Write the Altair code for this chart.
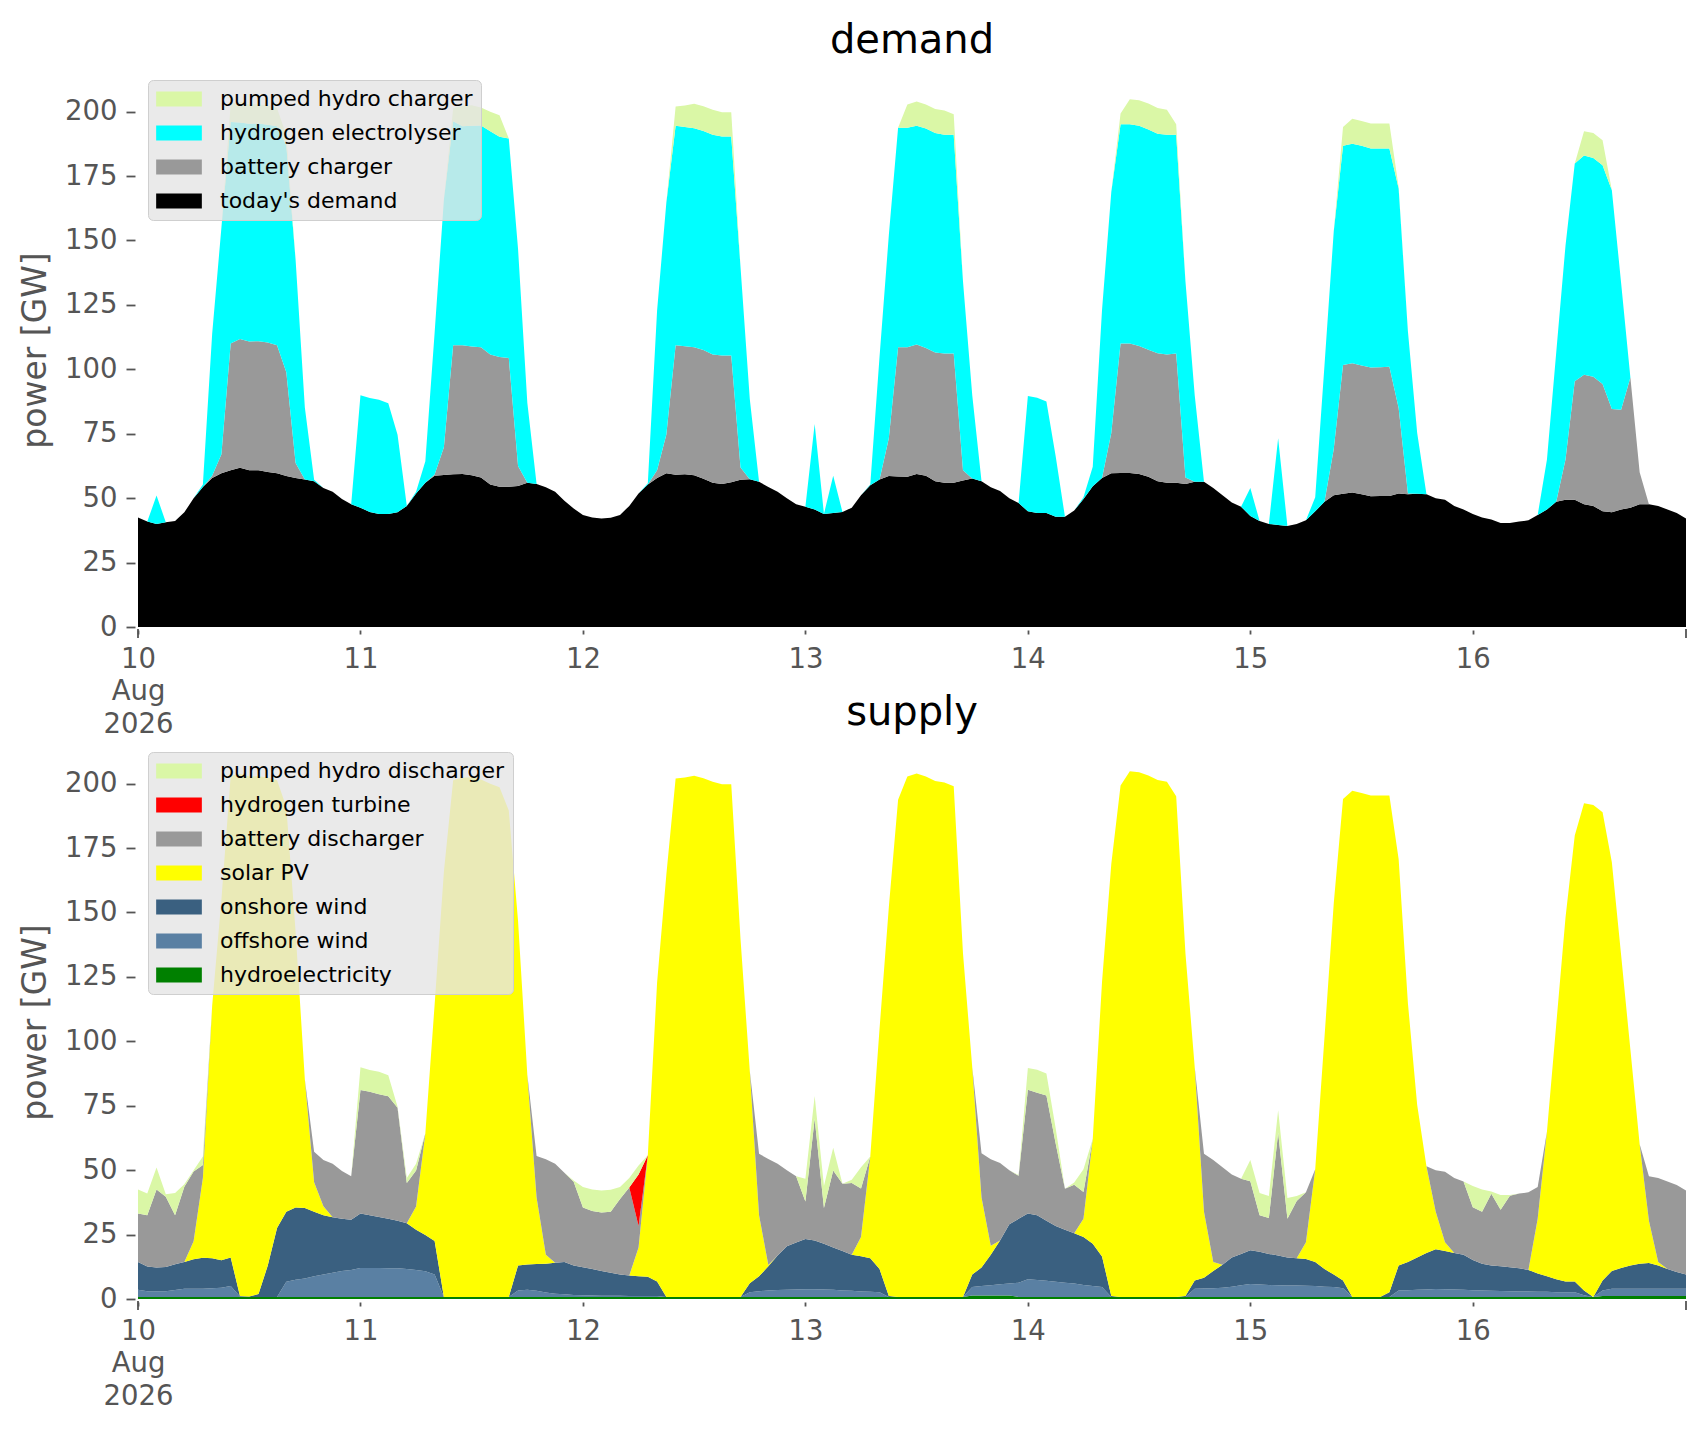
import altair as alt
import pandas as pd

# ---------------- data (hourly, 10 Aug 2026 00:00 .. 16 Aug 2026 23:00) ----------------
start = "2026-08-10 00:00"

demand = [
42.5,40.9,40.0,40.7,41.1,44.5,50.0,54.3,57.8,59.7,60.8,61.8,60.8,60.8,60.2,59.7,58.6,57.8,57.2,56.6,53.9,52.5,49.7,47.6,
46.3,44.6,43.9,43.9,44.5,47.0,51.8,56.0,58.7,59.0,59.3,59.4,58.9,58.0,55.3,54.4,54.4,54.7,56.0,55.5,54.2,52.5,49.0,46.0,
43.5,42.5,42.1,42.4,43.5,47.0,51.8,55.3,57.8,59.7,59.1,59.3,58.9,57.5,56.0,55.5,56.2,57.1,57.3,56.4,54.3,52.5,50.0,47.6,
46.7,45.6,43.9,44.2,44.6,46.3,51.1,55.0,57.2,58.6,58.4,58.3,59.4,58.7,56.6,56.0,56.0,56.9,57.6,56.6,54.2,52.8,50.0,48.1,
44.9,44.2,44.2,42.8,42.8,45.2,49.7,54.6,57.8,59.7,59.8,59.8,59.4,58.3,56.6,56.0,56.0,55.5,56.4,56.4,53.9,51.1,48.3,46.7,
43.1,41.1,40.0,39.6,39.2,40.0,41.4,44.9,48.6,51.1,51.7,52.2,51.5,50.7,50.8,50.8,51.8,51.5,51.7,51.5,50.0,49.4,47.0,45.6,
43.9,42.5,41.7,40.4,40.4,40.9,41.4,43.5,45.6,48.6,49.4,49.4,47.6,47.0,44.9,44.5,45.6,46.3,47.6,47.6,47.0,45.6,44.2,42.1]

battery_charger = [
0,0,0,0,0,0,0,0,0.9,7.3,49.2,50.0,50.0,50.1,50.2,49.6,40.3,5.8,0,0,0,0,0,0,
0,0,0,0,0,0,0,0,0.5,10.8,50.0,49.9,50.0,50.6,50.5,50.4,50.0,7.8,0,0,0,0,0,0,
0,0,0,0,0,0,0,0,3.0,15.0,50.2,49.7,49.7,50.0,49.8,49.9,49.2,4.8,0,0,0,0,0,0,
0,0,0,0,0,0,0,0,0,14.7,50.2,50.3,50.2,49.6,49.9,50.1,50.1,3.9,0,0,0,0,0,0,
0,0,0,0,0,0,0,0,0,15.6,50.2,50.2,49.7,49.3,49.6,49.8,50.1,2.5,0,0,0,0,0,0,
0,0,0,0,0,0,0,0,0,18.0,50.0,50.2,50.0,50.0,50.0,50.2,33.2,0.3,0,0,0,0,0,0,
0,0,0,0,0,0,0,0,0,0,15.6,46.0,50.3,50.1,49.4,40.1,38.7,50.5,12.5,0,0,0,0,0]

electrolyser = [
0,0,11.0,0,0,0,0,1.0,55.0,88.0,86.0,84.0,84.5,84.5,84.5,85.0,88.0,79.0,28.0,0.5,0,0,0,0,
43.6,44.3,44.3,42.9,30.1,0,0.7,8.3,55.0,96.0,87.0,85.0,85.6,86.0,86.6,85.5,85.2,84.2,31.0,0,0,0,0,0,
0,0,0,0,0,0,0,0.5,62.0,90.0,85.2,85.0,85.0,85.0,85.2,85.0,85.0,77.8,31.2,0,0,0,0,0,
0,33.2,0,14.5,0,0,0,0.3,47.8,78.7,85.2,85.2,84.9,85.2,85.2,84.9,84.9,73.4,32.3,0,0,0,0,0,
44.7,44.8,43.3,23.5,0,0,0.7,7.6,65.2,93.5,85.1,85.1,85.4,85.5,85.2,85.2,84.9,76.2,33.5,0,0,0,0,0,
10.8,0,0,33.7,0,0,0,5.5,53.0,84.5,85.1,85.1,85.3,85.0,84.9,84.7,85.2,63.0,23.6,0,0,0,0,0,
0,0,0,0,0,0,0,0,19.4,57.9,83.0,84.5,85.1,84.9,84.9,84.9,49.2,0,0,0,0,0,0,0]

pumped_charger = [
0,0,0,0,0,0,0,0,0,0,7.0,8.0,7.5,7.5,7.5,7.0,4.0,0,0,0,0,0,0,0,
0,0,0,0,0,0,0,0,0,0,5.0,8.0,8.0,7.0,7.6,8.3,0,0,0,0,0,0,0,0,
0,0,0,0,0,0,0,0,0,0,7.5,8.4,9.5,9.6,9.7,9.4,9.4,0,0,0,0,0,0,0,
0,0,0,0,0,0,0,0,0,0,0,9.0,9.4,9.3,9.3,9.4,8.0,0,0,0,0,0,0,0,
0,0,0,0,0,0,0,0,0,0,4.2,9.7,9.9,10.1,10.0,9.7,4.1,0,0,0,0,0,0,0,
0,0,0,0,0,0,0,0,0,0,7.2,9.7,9.6,9.7,9.7,9.7,0.5,0,0,0,0,0,0,0,
0,0,0,0,0,0,0,0,0,0,0,0,9.4,9.7,9.7,0,0,0,0,0,0,0,0,0]

hydro = [
0.8,0.8,0.8,0.8,0.8,0.8,0.8,0.8,0.8,0.8,0.8,0.8,0.8,0.8,0.8,0.8,0.8,0.8,0.8,0.8,0.8,0.8,0.8,0.8,
0.8,0.8,0.8,0.8,0.8,0.8,0.8,0.8,0.8,0.8,0.8,0.8,0.8,0.8,0.8,0.8,0.8,0.8,0.8,0.8,0.8,0.8,0.8,0.8,
0.8,0.8,0.8,0.8,0.8,0.8,0.8,0.8,0.8,0.8,0.8,0.8,0.8,0.8,0.8,0.8,0.8,0.8,0.8,0.8,0.8,0.8,0.8,0.8,
0.8,0.8,0.8,0.8,0.8,0.8,0.8,0.8,0.8,0.8,0.8,0.8,0.8,0.8,0.8,0.8,0.8,0.8,1.4,1.4,1.4,1.4,1.4,0.8,
0.8,0.8,0.8,0.8,0.8,0.8,0.8,0.8,0.8,0.8,0.8,0.8,0.8,0.8,0.8,0.8,0.8,0.8,0.8,0.8,0.8,0.8,0.8,0.8,
0.8,0.8,0.8,0.8,0.8,0.8,0.8,0.8,0.8,0.8,0.8,0.8,0.8,0.8,0.8,0.8,0.8,0.8,0.8,0.8,0.8,0.8,0.8,0.8,
0.8,0.8,0.8,0.8,0.8,0.8,0.8,0.8,0.8,0.8,0.8,0.8,0.8,0.8,1.2,1.2,1.2,1.2,1.2,1.2,1.2,1.2,1.2,1.2]

offshore = [
2.8,2.2,2.2,2.2,2.7,3.2,3.2,3.2,3.4,3.6,4.2,0.2,0,0,0,0,5.9,6.7,7.2,8.0,8.7,9.4,10.1,10.5,
11.2,11.2,11.2,11.1,11.1,10.8,10.5,10.0,8.7,0,0,0,0,0,0,0,0,2.5,2.8,2.4,1.7,1.2,1.0,0.8,
0.7,0.6,0.5,0.5,0.5,0.4,0.4,0.4,0.4,0,0,0,0,0,0,0,0,0,1.8,2.2,2.5,2.7,2.8,2.9,
3.0,3.0,2.9,2.8,2.5,2.4,2.1,2.0,1.8,0,0,0,0,0,0,0,0,0,3.3,3.6,3.9,4.3,4.6,5.5,
6.9,6.6,6.3,5.9,5.5,5.2,4.6,4.2,3.9,0,0,0,0,0,0,0,0,0,3.2,3.3,3.4,3.6,4.0,4.5,
5.0,4.8,4.6,4.5,4.4,4.4,4.3,4.2,4.0,3.9,3.4,0,0,0,0,0,2.5,2.6,2.8,2.9,3.1,3.0,2.9,2.8,
2.6,2.5,2.4,2.3,2.2,2.1,2.1,2.0,2.0,1.8,1.8,1.8,0.7,0,2.1,2.8,2.8,2.8,2.8,2.8,2.8,2.8,2.8,2.8]

onshore = [
10.8,9.6,9.2,9.4,10.0,10.4,11.4,12.0,11.6,10.6,11.1,0.2,0.2,1.1,12.2,26.8,27.2,28.0,27.3,25.1,23.0,21.5,20.2,19.5,
21.2,20.5,19.8,19.2,18.5,17.8,15.6,14.0,13.0,0,0,0,0,0,0,0,0,9.7,9.8,10.4,11.2,12.1,12.6,11.4,
10.8,10.2,9.6,8.9,8.2,7.9,7.6,7.4,5.6,0,0,0,0,0,0,0,0,0,3.5,5.8,9.4,13.4,16.9,18.2,
19.5,18.9,17.7,16.4,15.3,14.0,13.7,13.0,9.0,0.4,0,0,0,0,0,0,0,0,4.8,7.2,11.9,17.0,23.0,24.8,
25.5,25.1,23.3,21.6,20.6,19.5,18.7,16.4,11.8,0.4,0,0,0,0,0,0,0,0.4,3.2,4.1,6.7,8.9,11.3,12.2,
13.1,12.7,12.1,11.6,10.9,10.6,10.4,9.4,6.8,4.8,3.0,0,0,0,0,1.8,9.7,11.0,12.5,14.2,15.4,14.8,14.2,13.6,
11.7,10.4,9.8,9.6,9.3,9.0,8.4,7.1,6.0,5.1,4.2,4.2,1.8,0,3.9,6.9,8.0,9.0,9.7,10.0,9.0,7.6,6.5,5.5]

solar = [
0,0,0,0,0,0,7.0,31.0,97.9,140.0,186.9,202.6,201.8,201.0,189.4,173.7,157.0,107.1,49.9,11.4,3.5,0,0,0,
0,0,0,0,0,0,9.0,39.5,91.7,165.0,200.5,201.5,201.7,200.8,199.2,197.8,188.8,133.7,73.6,25.8,3.5,0,0,0,
0,0,0,0,0,0,11.2,47.2,116.0,163.9,201.2,201.6,202.3,201.3,199.9,199.0,199.0,138.9,82.4,23.7,0.5,0,0,0,
0,0,0,0,0,0,7.5,39.5,93.4,150.8,193.0,202.0,203.1,202.0,200.2,199.6,198.2,133.4,80.4,27.2,3.5,0,0,0,
0,0,0,0,0,0,7.0,40.8,106.5,167.6,198.5,204.0,203.6,202.4,200.6,199.9,194.3,133.0,82.7,25.7,3.5,0,0,0,
0,0,0,0,0,0,6.5,36.0,90.0,144.1,186.8,196.4,195.6,194.6,194.6,192.8,157.7,100.4,59.2,33.6,14.6,3.4,0,0,
0,0,0,0,0,0,0,21.2,56.2,98.8,141.2,173.1,189.1,190.9,181.7,158.6,121.5,83.8,46.4,16.4,1.4,0,0,0]

battery_discharger = [
18.8,19.9,30.3,27.3,19.0,29.2,27.1,5.0,0,0,0,0,0,0,0,0,0,0,0,11.8,17.9,20.8,18.6,16.8,
47.9,47.9,47.7,47.6,43.8,15.6,14.0,0,0,0,0,0,0,0,0,0,0,0,0,16.1,37.0,38.4,34.6,32.5,
23.2,22.6,22.7,23.7,29.3,34.2,8.3,0,0,0,0,0,0,0,0,0,0,0,0,23.9,41.1,35.6,29.5,25.7,
14.5,47.3,13.9,29.9,26.1,27.8,18.8,0,0,0,0,0,0,0,0,0,0,0,0,17.2,33.5,30.1,21.0,16.7,
48.0,47.5,48.6,32.0,15.9,18.8,10.4,0,0,0,0,0,0,0,0,0,0,0,0,22.5,39.5,37.8,32.2,29.2,
26.8,14.2,13.9,47.6,15.0,22.2,19.4,0,0,0,0,0,0,0,0,0,0,0,0,0,16.1,27.4,29.1,28.4,
20.5,20.2,27.8,21.9,27.8,29.0,30.1,12.4,0,0,0,0,0,0,0,0,0,0,0,17.2,32.6,34.0,33.7,32.6]

hydrogen_turbine = [
0,0,0,0,0,0,0,0,0,0,0,0,0,0,0,0,0,0,0,0,0,0,0,0,
0,0,0,0,0,0,0,0,0,0,0,0,0,0,0,0,0,0,0,0,0,0,0,0,
0,0,0,0,0,0,20.0,0,0,0,0,0,0,0,0,0,0,0,0,0,0,0,0,0,
0,0,0,0,0,0,0,0,0,0,0,0,0,0,0,0,0,0,0,0,0,0,0,0,
0,0,0,0,0,0,0,0,0,0,0,0,0,0,0,0,0,0,0,0,0,0,0,0,
0,0,0,0,0,0,0,0,0,0,0,0,0,0,0,0,0,0,0,0,0,0,0,0,
0,0,0,0,0,0,0,0,0,0,0,0,0,0,0,0,0,0,0,0,0,0,0,0]

pumped_discharger = [
9.3,8.4,8.5,1.0,8.6,0.9,0.5,3.3,0,0,0,0,0,0,0,0,0,0,0,0,0,0,0,0,
8.8,8.5,8.7,8.1,0.4,2.0,2.6,0,0,0,0,0,0,0,0,0,0,0,0,0,0,0,0,0.5,
8.0,8.3,8.5,8.5,4.7,3.7,3.5,0,0,0,0,0,0,0,0,0,0,0,0,0,0,0,0,0,
8.9,8.8,8.6,8.8,0,1.3,8.2,0,0,0,0,0,0,0,0,0,0,0,0,0,0,0,0,0.3,
8.4,9.0,8.5,6.0,0,0.9,8.9,0,0,0,0,0,0,0,0,0,0,0,0,0,0,0,0,0,
8.2,8.6,8.6,8.8,8.1,2.0,0,0,0,0,0,0,0,0,0,0,0,0,0,0,0,0,0,0,
8.3,8.6,0.9,5.8,0.3,0,0,0,0,0,0,0,0,0,0,0,0,0,0,0,0,0,0,0]

demand_series = [
    ("today's demand", demand),
    ("battery charger", battery_charger),
    ("hydrogen electrolyser", electrolyser),
    ("pumped hydro charger", pumped_charger),
]
supply_series = [
    ("hydroelectricity", hydro),
    ("offshore wind", offshore),
    ("onshore wind", onshore),
    ("solar PV", solar),
    ("battery discharger", battery_discharger),
    ("hydrogen turbine", hydrogen_turbine),
    ("pumped hydro discharger", pumped_discharger),
]
demand_colors = {"pumped hydro charger": "#DAF7A6", "hydrogen electrolyser": "#00FFFF",
                 "battery charger": "#999999", "today's demand": "#000000"}
supply_colors = {"pumped hydro discharger": "#DAF7A6", "hydrogen turbine": "#FF0000",
                 "battery discharger": "#999999", "solar PV": "#FFFF00",
                 "onshore wind": "#3A6080", "offshore wind": "#5A80A3",
                 "hydroelectricity": "#008000"}

times = pd.date_range(start, periods=len(demand), freq="h")


def to_frame(series):
    rows = []
    for k, (name, vals) in enumerate(series):
        for t, v in zip(times, vals):
            rows.append({"time": t.strftime("%Y-%m-%dT%H:%M:%S"), "series": name,
                         "value": v, "k": k})
    return pd.DataFrame(rows)


W = 1548
H = 554
GRAY = "#555555"

day_ticks = [alt.DateTime(year=2026, month=8, date=d, hours=0) for d in range(10, 17)]
x_domain = [alt.DateTime(year=2026, month=8, date=10, hours=0),
            alt.DateTime(year=2026, month=8, date=16, hours=23)]
major_df = pd.DataFrame({"time": [times[0].strftime("%Y-%m-%dT%H:%M:%S"),
                                  times[-1].strftime("%Y-%m-%dT%H:%M:%S")]})

x_axis = alt.Axis(values=day_ticks, title=None, domain=False, grid=False,
                  tickSize=4, tickWidth=1.8, tickColor=GRAY, offset=3,
                  labelExpr="date(datum.value) == 10 ? ['10', 'Aug', '2026'] : timeFormat(datum.value, '%d')",
                  labelFontSize=27.5, labelColor=GRAY, labelPadding=11,
                  labelLineHeight=32.5, labelFlush=False, labelOverlap=False,
                  labelAlign="center", labelBaseline="top")


def panel(series, colors, title):
    df = to_frame(series)
    legend_order = [name for name, _ in reversed(series)]
    area = alt.Chart(df).mark_area(interpolate="linear", opacity=1).encode(
        x=alt.X("time:T", scale=alt.Scale(domain=x_domain), axis=x_axis),
        y=alt.Y("value:Q", stack="zero",
                scale=alt.Scale(domain=[0, 215], nice=False, zero=True),
                axis=alt.Axis(values=list(range(0, 201, 25)), title="power [GW]",
                              domain=False, grid=False, tickSize=9, tickWidth=1.8,
                              tickColor=GRAY, offset=3, labelFontSize=27.5,
                              labelColor=GRAY, labelPadding=9, titleFontSize=33,
                              titleColor=GRAY, titleFontWeight="normal",
                              titlePadding=12)),
        color=alt.Color("series:N",
                        scale=alt.Scale(domain=legend_order,
                                        range=[colors[n] for n in legend_order]),
                        legend=alt.Legend(title=None, orient="none", legendX=10, legendY=7,
                                          fillColor="rgba(229,229,229,0.8)",
                                          strokeColor="#CFCFCF", cornerRadius=5,
                                          padding=8, symbolType="M-1,-0.33H1V0.33H-1Z",
                                          symbolSize=2088, symbolStrokeWidth=0,
                                          symbolOpacity=1, labelFontSize=22,
                                          labelColor="#000000", labelOffset=18,
                                          clipHeight=22, rowPadding=12, labelLimit=600)),
        order=alt.Order("k:Q", sort="ascending"),
    )
    major = alt.Chart(major_df).mark_rule(color=GRAY, strokeWidth=1.8).encode(
        x=alt.X("time:T", scale=alt.Scale(domain=x_domain), axis=x_axis),
        y=alt.value(H + 2),
        y2=alt.value(H + 11),
    )
    return alt.layer(area, major).properties(
        width=W, height=H,
        title=alt.TitleParams(title, fontSize=40, fontWeight="normal", color="#000000",
                              anchor="middle", offset=12),
    )


top = panel(demand_series, demand_colors, "demand")
bottom = panel(supply_series, supply_colors, "supply")

chart = alt.vconcat(top, bottom, spacing=118, bounds="flush").resolve_scale(
    color="independent"
).properties(
    padding={"left": 11, "top": 12, "right": 5, "bottom": 5},
    background="#FFFFFF",
).configure(font="DejaVu Sans").configure_view(stroke="transparent")

chart.save("out.html", embed_options={"renderer": "svg", "actions": False})
